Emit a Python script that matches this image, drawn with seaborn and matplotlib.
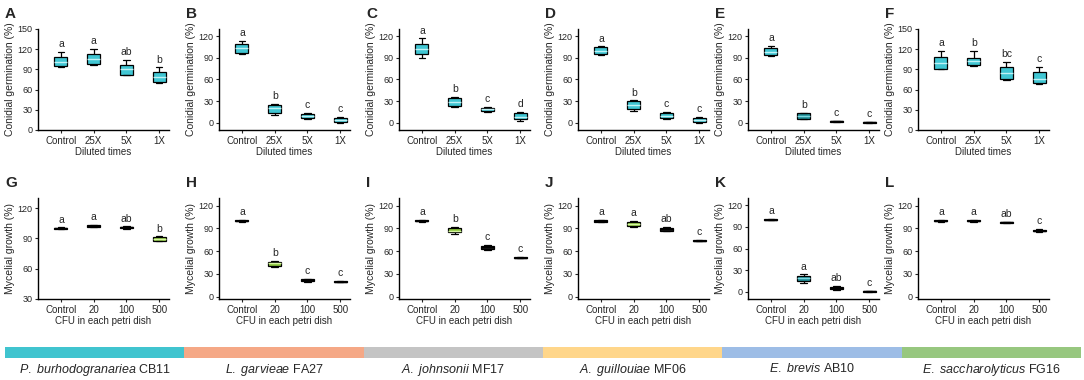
# Recreate the 12-panel antagonism box plot figure
import numpy as np
import pandas as pd
import matplotlib
matplotlib.use("Agg")
import matplotlib.pyplot as plt
import seaborn as sns

# ---- data: (min, q1, median, q3, max) of each box ----
diluted = ["Control", "25X", "5X", "1X"]
cfu = ["Control", "20", "100", "500"]

# conidial germination (%)
germ_A = [[94, 95, 101, 108, 116], [97, 98, 106, 113, 121], [81, 82, 90, 97, 104], [70, 71, 78, 86, 93]]
germ_B = [[96, 97, 103, 109, 114], [11, 14, 20, 25, 26], [5, 6, 9, 12, 14], [0, 1, 4, 7, 8]]
germ_C = [[90, 95, 102, 109, 117], [22, 23, 29, 35, 36], [15, 16, 19, 21, 22], [3, 5, 8, 13, 15]]
germ_D = [[94, 95, 100, 105, 106], [17, 19, 25, 30, 31], [5, 6, 10, 14, 15], [0, 1, 4, 7, 8]]
germ_E = [[93, 94, 98, 103, 107], [5, 5, 9, 13, 14], [0.5, 1, 2, 3, 3], [0, 0.3, 0.5, 0.8, 1]]
germ_F = [[90, 91, 99, 108, 117], [95, 96, 102, 107, 117], [74, 76, 84, 93, 101], [68, 70, 76, 86, 94]]

# mycelial growth (%)
myc_G = [[99, 99.5, 100, 100.5, 101], [101, 101.5, 102, 103, 103.5], [99.5, 100, 101, 101.5, 102], [87, 87.5, 89, 91.5, 92]]
myc_H = [[99, 99.5, 100, 100.5, 101], [39, 41, 44, 46, 47], [20, 21, 22, 23, 23.5], [19, 19.5, 20, 20.5, 21]]
myc_I = [[99, 99.5, 100, 100.5, 101], [83, 85, 87, 90, 92], [62, 63.5, 65, 66.5, 68], [50.5, 51, 51.5, 52, 52.5]]
myc_J = [[98.5, 99, 100, 100.5, 101], [92, 93.5, 96, 98.5, 100], [86, 87, 89, 90.5, 91.5], [73, 73.5, 74, 74.5, 75]]
myc_K = [[99, 99.5, 100, 100.5, 101], [12, 15, 18.5, 22, 24], [2, 3.5, 5.5, 7, 8], [0, 0.3, 0.5, 0.8, 1]]
myc_L = [[99, 99.5, 100, 100.5, 101], [99, 99.5, 100, 100.5, 101], [97, 97.5, 98, 98.5, 99], [85, 86, 87, 88.5, 89]]

# significance letters
let_A = ["a", "a", "ab", "b"]
let_B = ["a", "b", "c", "c"]
let_C = ["a", "b", "c", "d"]
let_D = ["a", "b", "c", "c"]
let_E = ["a", "b", "c", "c"]
let_F = ["a", "b", "bc", "c"]
let_G = ["a", "a", "ab", "b"]
let_H = ["a", "b", "c", "c"]
let_I = ["a", "b", "c", "c"]
let_J = ["a", "a", "ab", "c"]
let_K = ["a", "a", "ab", "c"]
let_L = ["a", "a", "ab", "c"]

strains = ["P. burhodogranariea", "L. garvieae", "A. johnsonii", "A. guillouiae", "E. brevis", "E. saccharolyticus"]
strain_ids = ["CB11", "FA27", "MF17", "MF06", "AB10", "FG16"]

# ---- styles ----
cyan, teal, green, dark = "#41C6D3", "#1F8E98", "#8DC63F", "#1a1a1a"
# lighter stripe through the middle of each box (median line)
median_of = {cyan: "#bff2f6", teal: "#7fd6de", green: "#d4f5a0", dark: "black"}
box_colors = {
    "A": [cyan] * 4, "B": [cyan] * 4, "C": [cyan] * 4, "D": [cyan] * 4,
    "E": [cyan, teal, dark, dark], "F": [cyan] * 4,
    "G": [dark, dark, dark, green], "H": [dark, green, dark, dark],
    "I": [dark, green, dark, dark], "J": [dark, green, dark, dark],
    "K": [dark, teal, dark, dark], "L": [dark, dark, dark, dark],
}
strip_colors = ["#40C4CF", "#F5A886", "#C4C4C4", "#FFD68A", "#9DBDE6", "#97C77F"]

sns.set_style("ticks")
plt.rcParams["font.family"] = ["Liberation Sans", "DejaVu Sans"]
plt.rcParams["mathtext.fontset"] = "custom"
plt.rcParams["mathtext.rm"] = "Liberation Sans"
plt.rcParams["mathtext.it"] = "Liberation Sans:italic"

W, H = 1084, 380
fig = plt.figure(figsize=(W / 100, H / 100), dpi=100)

top_panels = [("A", germ_A, let_A), ("B", germ_B, let_B), ("C", germ_C, let_C),
              ("D", germ_D, let_D), ("E", germ_E, let_E), ("F", germ_F, let_F)]
bot_panels = [("G", myc_G, let_G), ("H", myc_H, let_H), ("I", myc_I, let_I),
              ("J", myc_J, let_J), ("K", myc_K, let_K), ("L", myc_L, let_L)]

left_px = [38, 219, 399, 578, 748, 918]
ylims = {"A": (0, 150), "F": (0, 150), "G": (30, 130), "K": (-10, 130),
         "H": (-3, 130), "I": (-3, 130), "J": (-3, 130), "L": (-3, 130)}
yticks = {"A": np.arange(0, 151, 30), "F": np.arange(0, 151, 30), "G": np.arange(30, 121, 30)}


def draw_panel(name, boxes, letters, cats, left, top, ylabel, xlabel):
    ax = fig.add_axes([left / W, 1 - (top + 101) / H, 131 / W, 101 / H])
    df = pd.DataFrame([(c, v) for c, vals in zip(cats, boxes) for v in vals], columns=["cat", "val"])
    sns.boxplot(data=df, x="cat", y="val", hue="cat", order=cats, hue_order=cats,
                palette=dict(zip(cats, box_colors[name])), width=0.4, whis=np.inf,
                saturation=1, linecolor="black", linewidth=0.9, legend=False,
                medianprops=dict(linewidth=1.0), ax=ax)
    # recolour the median stripe to suit each box
    for cont, col in zip(ax.containers, box_colors[name]):
        for med in cont.medians:
            med.set_color(median_of[col])
    # significance letters above the whiskers
    for i, (vals, lt) in enumerate(zip(boxes, letters)):
        ax.annotate(lt, (i, max(vals)), xytext=(0, 2), textcoords="offset points",
                    ha="center", va="bottom", fontsize=7.5)
    ax.set_xlim(-0.7, 3.3)
    ax.set_ylim(*ylims.get(name, (-10, 130)))
    ax.set_yticks(yticks.get(name, np.arange(0, 121, 30)))
    ax.set_xlabel(xlabel, fontsize=7, labelpad=1)
    ax.set_ylabel(ylabel, fontsize=7.5, labelpad=2)
    ax.tick_params(axis="y", labelsize=6.5, length=2.5, width=0.8, pad=1.5)
    ax.tick_params(axis="x", labelsize=7, length=2, width=0.8, pad=2)
    for s in ["top", "right"]:
        ax.spines[s].set_visible(False)
    for s in ["left", "bottom"]:
        ax.spines[s].set_linewidth(1.0)
        ax.spines[s].set_color("black")
    fig.text((left - 33) / W, 1 - (top - 11) / H, name, fontsize=11, fontweight="bold",
             ha="left", va="baseline")
    return ax


for (name, boxes, letters), lp in zip(top_panels, left_px):
    draw_panel(name, boxes, letters, diluted, lp, 29, "Conidial germination (%)", "Diluted times")

for (name, boxes, letters), lp in zip(bot_panels, left_px):
    draw_panel(name, boxes, letters, cfu, lp, 198, "Mycelial growth (%)", "CFU in each petri dish")

# colour strip naming each strain
sax = fig.add_axes([5 / W, 1 - 358 / H, 1076 / W, 11 / H])
sax.bar(range(len(strains)), 1, width=1, color=strip_colors, edgecolor="none")
sax.set_xlim(-0.5, len(strains) - 0.5)
sax.set_ylim(0, 1)
sax.set_yticks([])
sax.set_xticks(range(len(strains)))
sax.set_xticklabels([r"$\mathit{" + s.replace(" ", r"\ ") + "}$ " + sid for s, sid in zip(strains, strain_ids)],
                    fontsize=9)
sax.tick_params(axis="x", length=0, pad=3)
for s in sax.spines.values():
    s.set_visible(False)

plt.savefig("out.png", dpi=100)
